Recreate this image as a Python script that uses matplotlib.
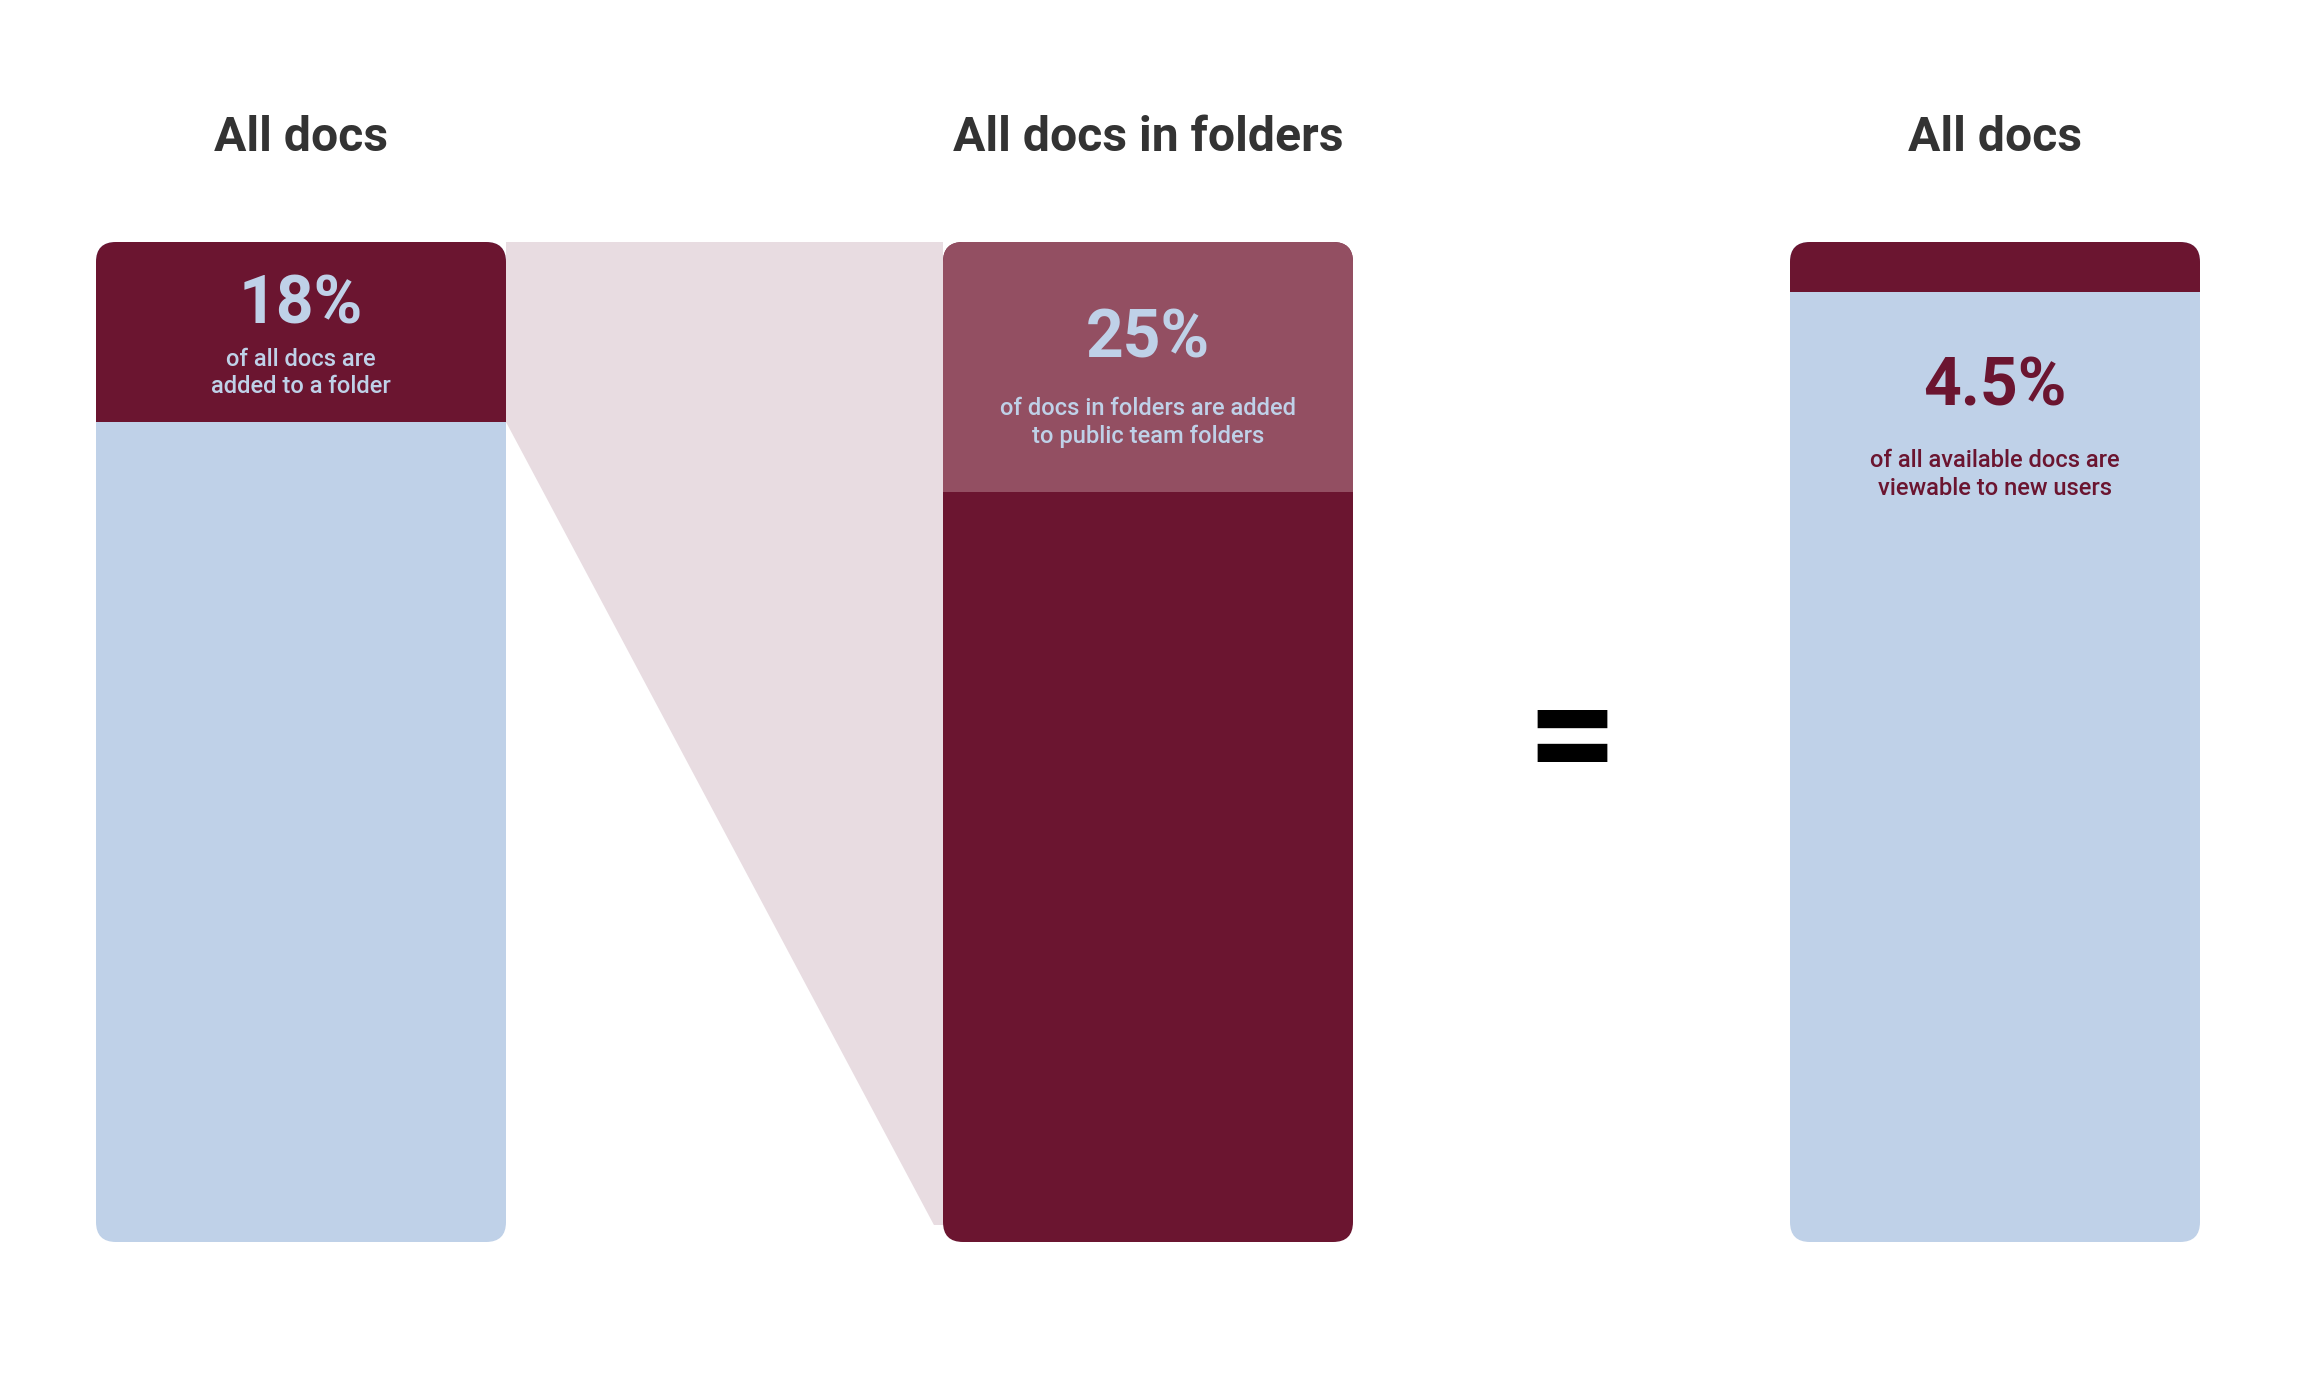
import matplotlib
matplotlib.use("Agg")
import matplotlib.pyplot as plt
from matplotlib.patches import FancyBboxPatch, Rectangle, Polygon

plt.rcParams['font.family'] = ['Roboto', 'DejaVu Sans']

# ---- data ----
titles = ["All docs", "All docs in folders", "All docs"]
highlight_share = [18, 25, 5]          # drawn share of each bar's top segment (%)
labels_pct = ["18%", "25%", "4.5%"]
labels_sub = [["of all docs are", "added to a folder"],
              ["of docs in folders are added", "to public team folders"],
              ["of all available docs are", "viewable to new users"]]

# ---- style ----
MAROON = "#6b1530"
BLUE = "#bfd1e8"
MAUVE = "#934f62"
PINK = "#e8dce1"
TITLE_C = "#333333"

W, H = 2305, 1383
fig = plt.figure(figsize=(W / 100, H / 100), dpi=100)
ax = fig.add_axes([0, 0, 1, 1])
ax.set_xlim(0, W)
ax.set_ylim(H, 0)
ax.axis("off")

bar_left = [96, 943, 1790]
bar_w = 410
top, bottom = 242, 1242
bar_h = bottom - top
rad = 20

# bar fills: (top segment color, rest color)
fills = [(MAROON, BLUE), (MAUVE, MAROON), (MAROON, BLUE)]

# funnel between bar 1 and bar 2
split1 = top + bar_h * highlight_share[0] / 100
x_a = bar_left[0] + bar_w
x_b = bar_left[1]
y_c = bottom - 17
x_c = x_a + (x_b - x_a) * (y_c - split1) / (bottom - split1)
funnel = Polygon([(x_a, top), (x_b, top), (x_b, y_c), (x_c, y_c), (x_a, split1)],
                 closed=True, facecolor=PINK, edgecolor="none", zorder=1)
ax.add_patch(funnel)

for i in range(3):
    x0 = bar_left[i]
    topc, restc = fills[i]
    base = FancyBboxPatch((x0 + rad, top + rad), bar_w - 2 * rad, bar_h - 2 * rad,
                          boxstyle=f"round,pad={rad}", facecolor=restc,
                          edgecolor="none", zorder=2)
    ax.add_patch(base)
    seg_h = bar_h * highlight_share[i] / 100
    seg = Rectangle((x0 - 5, top - 5), bar_w + 10, seg_h + 5,
                    facecolor=topc, edgecolor="none", zorder=3)
    ax.add_patch(seg)
    seg.set_clip_path(base)

    cx = x0 + bar_w / 2
    ax.text(cx, 151, titles[i], ha="center", va="baseline", fontsize=34.7,
            fontweight="bold", color=TITLE_C, zorder=5)

# text inside bars
num_base = [323, 358, 405]
sub_base = [(366, 393), (415, 443), (467, 495)]
txt_colors = [BLUE, BLUE, MAROON]
for i in range(3):
    cx = bar_left[i] + bar_w / 2
    ax.text(cx, num_base[i], labels_pct[i], ha="center", va="baseline",
            fontsize=47.5, fontweight="bold", color=txt_colors[i], zorder=5)
    for line, yb in zip(labels_sub[i], sub_base[i]):
        ax.text(cx, yb, line, ha="center", va="baseline", fontsize=17.1,
                fontweight="medium", color=txt_colors[i], zorder=5)

# equals sign
ax.text(1572, 787, "=", ha="center", va="baseline", fontsize=115,
        fontweight="bold", color="black", zorder=5)

fig.savefig("out.png", dpi=100, facecolor="white")
